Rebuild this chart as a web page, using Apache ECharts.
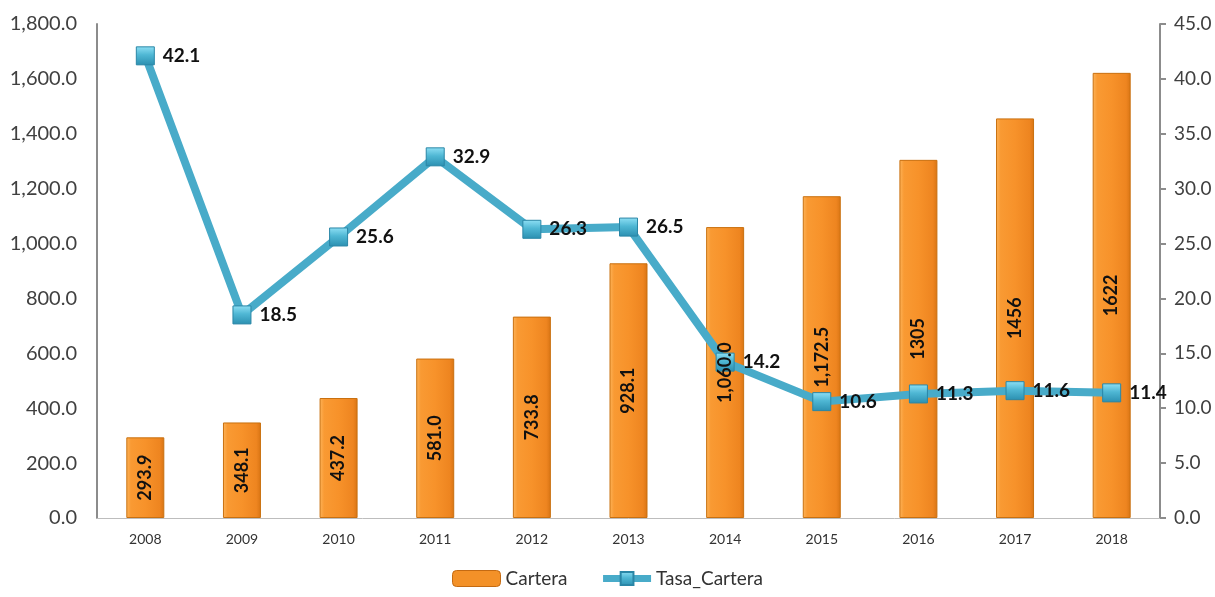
<!DOCTYPE html>
<html>
<head>
<meta charset="utf-8">
<script src="https://cdn.jsdelivr.net/npm/echarts@6/dist/echarts.min.js"></script>
<style>
  html, body { margin: 0; padding: 0; background: #fff; }
  #chart { width: 1215px; height: 597px; }
</style>
</head>
<body>
<div id="chart"></div>
<script>
// Loan portfolio (Cartera) and its growth rate (Tasa_Cartera), 2008-2018
const years = ['2008', '2009', '2010', '2011', '2012', '2013', '2014', '2015', '2016', '2017', '2018'];
const cartera = [293.9, 348.1, 437.2, 581.0, 733.8, 928.1, 1060.0, 1172.5, 1305, 1456, 1622];
const tasaCartera = [42.1, 18.5, 25.6, 32.9, 26.3, 26.5, 14.2, 10.6, 11.3, 11.6, 11.4];
// Years whose bar labels are printed with one decimal and thousands separator
const decimalLabelYears = ['2008', '2009', '2010', '2011', '2012', '2013', '2014', '2015'];

const FONT = 'Lato, "Liberation Sans", sans-serif';

function fmt1(v) {
  return v.toLocaleString('en-US', { minimumFractionDigits: 1, maximumFractionDigits: 1 });
}

const barFill = new echarts.graphic.LinearGradient(0, 0, 1, 0, [
  { offset: 0, color: '#fdb45a' },
  { offset: 0.12, color: '#f99a33' },
  { offset: 0.5, color: '#f7922a' },
  { offset: 0.88, color: '#ee8520' },
  { offset: 1, color: '#d87414' }
]);

const markerFill = new echarts.graphic.LinearGradient(0, 0, 0, 1, [
  { offset: 0, color: '#8fe0f5' },
  { offset: 0.45, color: '#4fb7d4' },
  { offset: 1, color: '#2b8fb0' }
]);

const BAR_W = 38;

const chart = echarts.init(document.getElementById('chart'), null, { renderer: 'canvas' });

chart.setOption({
  animation: false,
  backgroundColor: '#ffffff',
  textStyle: { fontFamily: FONT },
  grid: { left: 97, right: 55, top: 24, bottom: 79, containLabel: false },
  legend: {
    bottom: 4,
    left: 'center',
    itemGap: 32,
    itemWidth: 48,
    itemHeight: 16,
    textStyle: { fontFamily: FONT, fontSize: 19, color: '#333' },
    data: [
      { name: 'Cartera', icon: 'roundRect', itemStyle: { color: '#f39128', borderColor: '#c46a12', borderWidth: 1 } },
      { name: 'Tasa_Cartera', lineStyle: { width: 7, color: '#48abc9' } }
    ]
  },
  xAxis: {
    type: 'category',
    data: years,
    axisLine: { lineStyle: { color: '#bdbdbd', width: 1 } },
    axisTick: { show: false },
    axisLabel: { fontFamily: FONT, fontSize: 14, color: '#333', margin: 14 }
  },
  yAxis: [
    {
      type: 'value',
      min: 0, max: 1800, interval: 200,
      position: 'left',
      splitLine: { show: false },
      axisLine: { show: true, lineStyle: { color: '#8c8c8c', width: 2 } },
      axisTick: { show: false },
      axisLabel: { fontFamily: FONT, fontSize: 20, color: '#404040', margin: 20, formatter: v => fmt1(v) }
    },
    {
      type: 'value',
      min: 0, max: 45, interval: 5,
      position: 'right',
      splitLine: { show: false },
      axisLine: { show: true, lineStyle: { color: '#8c8c8c', width: 2 } },
      axisTick: { show: true, length: 6, lineStyle: { color: '#8c8c8c', width: 2 } },
      axisLabel: { fontFamily: FONT, fontSize: 19, color: '#404040', margin: 14, formatter: v => v.toFixed(1) }
    }
  ],
  series: [
    {
      name: 'Cartera',
      type: 'bar',
      yAxisIndex: 0,
      data: cartera,
      barWidth: BAR_W,
      barGap: '-100%',
      itemStyle: { color: barFill, borderColor: '#c9700f', borderWidth: 1 },
      z: 2
    },
    {
      name: 'Tasa_Cartera',
      type: 'line',
      yAxisIndex: 1,
      data: tasaCartera,
      symbol: 'rect',
      symbolSize: 18,
      lineStyle: { color: '#48abc9', width: 8 },
      itemStyle: { color: markerFill, borderColor: '#2a86a6', borderWidth: 1 },
      label: {
        show: true,
        position: 'right',
        distance: 8,
        fontFamily: FONT,
        fontSize: 19,
        fontWeight: 'bold',
        color: '#111',
        formatter: p => p.value.toFixed(1)
      },
      z: 5
    },
    {
      // value labels of the Cartera bars, kept on a transparent overlay so they sit above the line
      name: 'Cartera_labels',
      type: 'bar',
      yAxisIndex: 0,
      data: cartera,
      barWidth: BAR_W,
      barGap: '-100%',
      silent: true,
      itemStyle: { color: 'rgba(0,0,0,0)' },
      label: {
        show: true,
        position: 'inside',
        rotate: 90,
        fontFamily: FONT,
        fontSize: 18,
        fontWeight: 'bold',
        color: '#111',
        formatter: p => decimalLabelYears.indexOf(p.name) >= 0 ? fmt1(p.value) : String(p.value)
      },
      z: 8
    }
  ]
});
</script>
</body>
</html>
